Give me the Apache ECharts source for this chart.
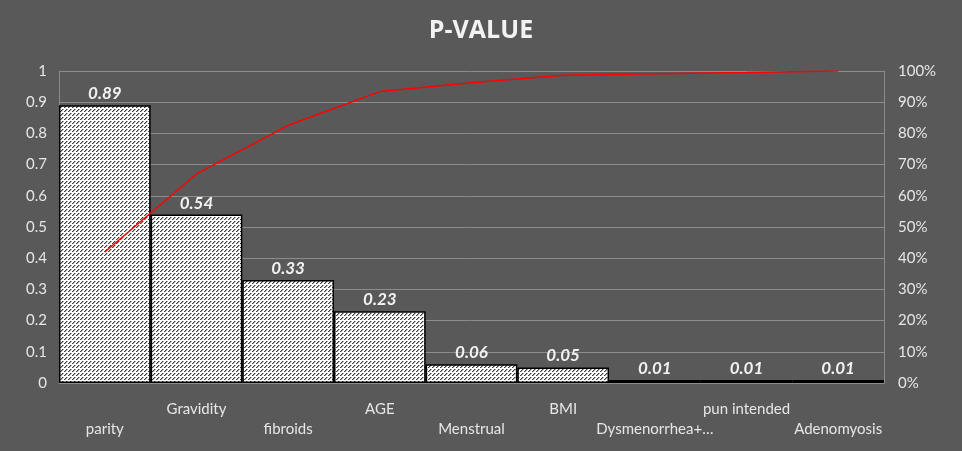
<!DOCTYPE html>
<html>
<head>
<meta charset="utf-8">
<style>
  html, body { margin: 0; padding: 0; background: #595959; }
  #main { width: 962px; height: 451px; }
</style>
<script src="https://cdn.jsdelivr.net/npm/echarts@6/dist/echarts.min.js"></script>
</head>
<body>
<div id="main"></div>
<script>
// chart data
var categories = ['parity', 'Gravidity', 'fibroids', 'AGE', 'Menstrual', 'BMI', 'Dysmenorrhea+…', 'pun intended', 'Adenomyosis'];
var pValues = [0.89, 0.54, 0.33, 0.23, 0.06, 0.05, 0.01, 0.01, 0.01];
var cumulative = [0.42, 0.67, 0.826, 0.934, 0.962, 0.986, 0.991, 0.995, 1.0];
var leftTicks = ['0', '0.1', '0.2', '0.3', '0.4', '0.5', '0.6', '0.7', '0.8', '0.9', '1'];

// hatch pattern for the bars
function makeHatch() {
  var c = document.createElement('canvas');
  c.width = 8; c.height = 8;
  var ctx = c.getContext('2d');
  ctx.fillStyle = '#ffffff';
  ctx.fillRect(0, 0, 8, 8);
  for (var i = 0; i < 8; i++) {
    if (i % 4 === 3) continue; // small gap -> dashed look
    var y = 7 - i;
    ctx.fillStyle = '#3c3c3c';
    ctx.fillRect(i, y, 1, 1);
    ctx.fillRect((i + 4) % 8, y, 1, 1);
    ctx.fillStyle = '#a8a8a8';
    ctx.fillRect((i + 1) % 8, y, 1, 1);
    ctx.fillRect((i + 5) % 8, y, 1, 1);
  }
  return c;
}

var font = 'Lato, "Open Sans", sans-serif';
var myChart = echarts.init(document.getElementById('main'));

myChart.setOption({
  backgroundColor: '#595959',
  animation: false,
  title: {
    text: 'P-VALUE',
    left: 'center',
    top: 13,
    textStyle: { color: '#f2f2f2', fontSize: 25, fontWeight: 'bold', fontFamily: '"Open Sans", sans-serif' }
  },
  grid: { left: 59, right: 78, top: 71, bottom: 68, containLabel: false },
  xAxis: {
    type: 'category',
    data: categories,
    axisTick: { show: false },
    axisLine: { lineStyle: { color: '#8c8c8c' } },
    axisLabel: {
      interval: 0,
      color: '#e6e6e6',
      fontSize: 15,
      fontFamily: font,
      margin: 16,
      lineHeight: 20,
      formatter: function (v, i) { return i % 2 === 0 ? '\n' + v : v; }
    }
  },
  yAxis: [{
    type: 'value',
    min: 0, max: 1, interval: 0.1,
    axisLine: { show: true, lineStyle: { color: '#8c8c8c' } },
    splitLine: { lineStyle: { color: '#8c8c8c' } },
    axisLabel: {
      color: '#e6e6e6', fontSize: 15, fontFamily: font, margin: 12,
      formatter: function (v) { return leftTicks[Math.round(v * 10)]; }
    }
  }, {
    type: 'value',
    min: 0, max: 1, interval: 0.1,
    axisLine: { show: true, lineStyle: { color: '#8c8c8c' } },
    splitLine: { show: false },
    axisLabel: {
      color: '#e6e6e6', fontSize: 15, fontFamily: font, margin: 14,
      formatter: function (v) { return Math.round(v * 100) + '%'; }
    }
  }],
  series: [{
    type: 'bar',
    data: pValues,
    barCategoryGap: 0,
    itemStyle: {
      color: { image: makeHatch(), repeat: 'repeat' },
      borderColor: '#000000',
      borderWidth: 1.5
    },
    label: {
      show: true,
      position: 'top',
      distance: 3,
      color: '#f2f2f2',
      fontSize: 17,
      fontWeight: 'bold',
      fontStyle: 'italic',
      fontFamily: font,
      formatter: function (p) { return p.value.toFixed(2); }
    }
  }, {
    type: 'line',
    yAxisIndex: 1,
    data: cumulative,
    showSymbol: false,
    lineStyle: { color: '#ff0000', width: 1.5 },
    z: 5
  }]
});
</script>
</body>
</html>
